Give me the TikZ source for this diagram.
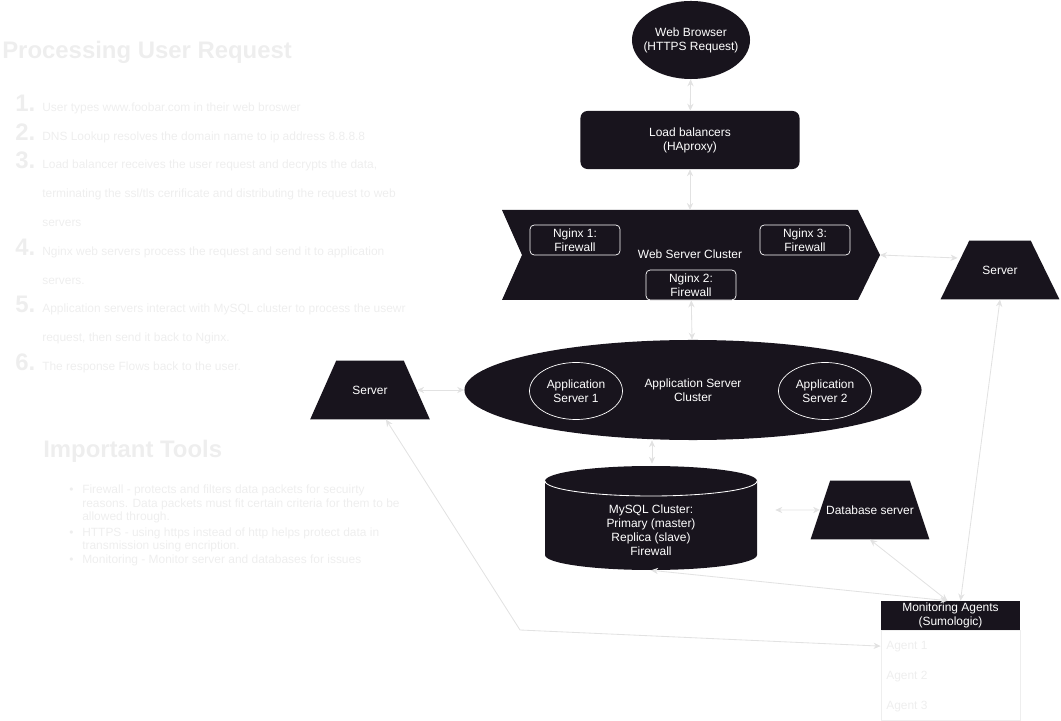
\documentclass[tikz,border=0pt]{standalone}
\usepackage{fontspec}
\setmainfont{Liberation Sans}
\usetikzlibrary{arrows.meta,positioning,shapes.geometric,calc}
\definecolor{panel}{RGB}{24,20,29}
\definecolor{wire}{RGB}{226,226,226}
\definecolor{faint}{RGB}{238,238,238}
\newcommand{\diagfont}{\fontsize{8.5}{10}\selectfont}
\newcommand{\headfont}{\fontsize{17}{20}\selectfont\bfseries}
\tikzset{
  darkshape/.style={fill=panel, text=white, font=\diagfont, align=center, inner sep=0pt},
  roundbox/.style={darkshape, rectangle, rounded corners=5pt, minimum width=5.475cm, minimum height=1.45cm},
  nginxbox/.style={darkshape, rectangle, draw=white, line width=0.5pt, rounded corners=3pt, minimum width=2.25cm, minimum height=0.75cm},
  appcircle/.style={darkshape, ellipse, draw=white, line width=0.5pt, minimum width=2.325cm, minimum height=1.425cm},
  serverbox/.style={darkshape, trapezium, trapezium stretches=true, text height=6.5pt, text depth=0pt, inner xsep=2pt, inner ysep=17.6pt},
  link/.style={draw=wire, line width=0.6pt, {Stealth[length=5pt,width=4.5pt]}-{Stealth[length=5pt,width=4.5pt]}},
  heading/.style={text=faint, font=\headfont, anchor=base west, inner sep=0pt},
  stepnum/.style={text=faint, font=\headfont, anchor=base west, inner sep=0pt},
  steptext/.style={text=faint, font=\diagfont, anchor=base west, inner sep=0pt}
}
\begin{document}
\begin{tikzpicture}[x=0.025cm, y=-0.025cm]
  \useasboundingbox (0,0) rectangle (1061,721);

  \node[heading] (title) at (2,59) {Processing User Request};
  \node[stepnum] (n1) at (15,112) {1.};
  \node[stepnum] (n2) at (15,141) {2.};
  \node[stepnum] (n3) at (15,169) {3.};
  \node[stepnum] (n4) at (15,256) {4.};
  \node[stepnum] (n5) at (15,313) {5.};
  \node[stepnum] (n6) at (15,371) {6.};
  \node[steptext] (s1) at (42,112) {User types www.foobar.com in their web broswer};
  \node[steptext] (s2) at (42,141) {DNS Lookup resolves the domain name to ip address 8.8.8.8};
  \node[steptext] (s3a) at (42,169) {Load balancer receives the user request and decrypts the data,};
  \node[steptext] (s3b) at (42,198) {terminating the ssl/tls cerrificate and distributing the request to web};
  \node[steptext] (s3c) at (42,227) {servers};
  \node[steptext] (s4a) at (42,256) {Nginx web servers process the request and send it to application};
  \node[steptext] (s4b) at (42,285) {servers.};
  \node[steptext] (s5a) at (42,313) {Application servers interact with MySQL cluster to process the usewr};
  \node[steptext] (s5b) at (42,342) {request, then send it back to Nginx.};
  \node[steptext] (s6) at (42,371) {The response Flows back to the user.};

  \node[heading] (tools) at (43,458) {Important Tools};
  \node[steptext] (b1) at (69,493) {•};
  \node[steptext] (b2) at (69,536) {•};
  \node[steptext] (b3) at (69,564) {•};
  \node[steptext] (f1a) at (82,493) {Firewall - protects and filters data packets for secuirty};
  \node[steptext] (f1b) at (82,507) {reasons. Data packets must fit certain criteria for them to be};
  \node[steptext] (f1c) at (82,521) {allowed through.};
  \node[steptext] (f2a) at (82,536) {HTTPS - using https instead of http helps protect data in};
  \node[steptext] (f2b) at (82,550) {transmission using encription.};
  \node[steptext] (f3) at (82,564) {Monitoring - Monitor server and databases for issues};

  \node[darkshape, ellipse, inner xsep=-5pt, minimum width=2.95cm, minimum height=1.95cm] (browser) at (691,40) {Web Browser\\(HTTPS Request)};
  \node[roundbox] (lb) at (690,140) {Load balancers\\(HAproxy)};

  \fill[panel] (502,210) -- (858,210) -- (880,255) -- (858,300) -- (502,300) -- (522,255) -- cycle;
  \coordinate (webtop) at (690,210);
  \coordinate (webtip) at (880,255);
  \node[darkshape, fill=none] (webcl) at (690,254) {Web Server Cluster};
  \node[nginxbox] (ng1) at (575,240) {Nginx 1:\\Firewall};
  \node[nginxbox] (ng3) at (805,240) {Nginx 3:\\Firewall};
  \node[nginxbox] (ng2) at (691,285) {Nginx 2:\\Firewall};

  \node[serverbox, minimum width=2.975cm, trapezium angle=72] (srvR) at (1000,270) {Server};
  \node[serverbox, minimum width=3cm, trapezium angle=75] (srvL) at (370,390) {Server};

  \node[darkshape, ellipse, minimum width=11.425cm, minimum height=2.5cm] (app) at (693,390) {Application Server\\Cluster};
  \node[appcircle] (app1) at (576,391) {Application\\Server 1};
  \node[appcircle] (app2) at (825,391) {Application\\Server 2};

  \fill[panel] (545,481) -- (545,555) arc[start angle=180, end angle=0, x radius=106, y radius=15] -- (757,481) arc[start angle=0, end angle=-180, x radius=106, y radius=15] -- cycle;
  \draw[white, line width=0.6pt] (545,481) arc[start angle=180, end angle=0, x radius=106, y radius=15];
  \node[minimum width=5.3cm, minimum height=2.6cm, inner sep=0pt] (mysql) at (651,518) {};
  \node[darkshape, fill=none] (mysqltext) at (651,530) {MySQL Cluster:\\Primary (master)\\Replica (slave)\\Firewall};

  \node[serverbox, inner xsep=-3.5pt, minimum width=2.975cm, trapezium angle=72] (db) at (870,510) {Database server};

  \node[darkshape, rectangle, minimum width=3.475cm, minimum height=0.725cm] (mon) at (950.5,615.5) {Monitoring Agents\\(Sumologic)};
  \node[draw=faint, line width=0.5pt, minimum width=3.475cm, minimum height=2.25cm, inner sep=0pt] (monbody) at (950.5,675) {};
  \node[steptext] (ag1) at (886,649) {Agent 1};
  \node[steptext] (ag2) at (886,679) {Agent 2};
  \node[steptext] (ag3) at (886,709) {Agent 3};

  \draw[link] (browser) -- (lb);
  \draw[link] (lb) -- (webtop);
  \draw[link] (webtip) -- ($(srvR.west)+(3,-12)$);
  \draw[link] (ng2) -- (app);
  \draw[link] (srvL) -- (app);
  \draw[link] (app.south -| 652,0) -- ($(mysql.north)+(1,-2)$);
  \draw[link] ($(mysql.east)+(18,-8)$) -- (db.west);
  \draw[link] ($(srvL.south)+(16,0)$) -- (520,630) -- (monbody.west |- ag1);
  \draw[link] (mysql.south) -- ($(mon.north)+(-3,0)$);
  \draw[link] (db.south) -- ($(mon.north)+(-3,0)$);
  \draw[link] (srvR.south) -- ($(mon.north)+(10,0)$);
\end{tikzpicture}
\end{document}
